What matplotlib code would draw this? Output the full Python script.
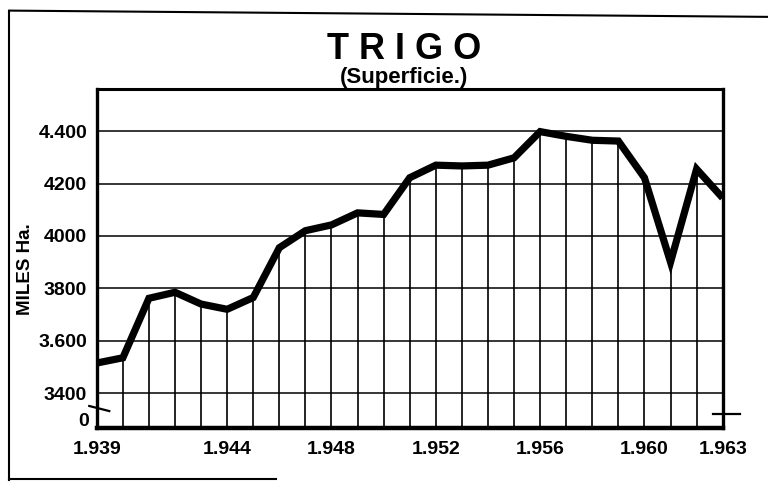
import matplotlib
matplotlib.use("Agg")
import matplotlib.pyplot as plt
from matplotlib.lines import Line2D

# superficie de trigo, miles de hectareas
years = list(range(1939, 1964))
area = [3515, 3535, 3762, 3785, 3740, 3720, 3765, 3955, 4020, 4042,
        4088, 4082, 4222, 4270, 4267, 4270, 4298, 4398, 4380, 4365,
        4362, 4222, 3900, 4255, 4145]

ytick_vals = [3400, 3600, 3800, 4000, 4200, 4400]
ytick_labels = ["3400", "3.600", "3800", "4000", "4200", "4.400"]
xtick_vals = [1939, 1944, 1948, 1952, 1956, 1960, 1963]
xtick_labels = ["1.939", "1.944", "1.948", "1.952", "1.956", "1.960", "1.963"]

plt.rcParams['font.family'] = ['Liberation Sans', 'DejaVu Sans']

fig = plt.figure(figsize=(7.68, 4.82), dpi=100)
ax = fig.add_axes([0.126, 0.112, 0.815, 0.703])

ymin, ymax = 3267, 4560
ax.set_xlim(1939, 1963)
ax.set_ylim(ymin, ymax)

# horizontal grid
for v in ytick_vals:
    ax.axhline(v, color='black', lw=1.1, zorder=1)

# vertical lines from the base up to the curve
ax.vlines(years, ymin, area, color='black', lw=1.2, zorder=2)

ax.plot(years, area, color='black', lw=5.2, solid_joinstyle='miter',
        solid_capstyle='butt', zorder=3)

for side, lw in [('left', 2.4), ('right', 2.4), ('top', 2.2), ('bottom', 3.2)]:
    ax.spines[side].set_linewidth(lw)
    ax.spines[side].set_color('black')

ax.set_yticks(ytick_vals)
ax.set_yticklabels(ytick_labels, fontsize=14, fontweight='bold')
ax.set_xticks(xtick_vals)
ax.set_xticklabels(xtick_labels, fontsize=14, fontweight='bold')
ax.tick_params(length=0, pad=7)
ax.tick_params(axis='x', pad=9)

# "0" at the foot of the broken axis
ax.text(-0.012, 0.02, "0", transform=ax.transAxes, ha='right', va='center',
        fontsize=14, fontweight='bold')

# axis break marks
ax.add_line(Line2D([-0.012, 0.02], [0.065, 0.05], transform=ax.transAxes,
                   color='black', lw=1.6, clip_on=False))
ax.add_line(Line2D([0.985, 1.027], [0.04, 0.04], transform=ax.transAxes,
                   color='black', lw=1.6, clip_on=False))

ax.set_ylabel("MILES Ha.", fontsize=13.5, fontweight='bold')
ax.yaxis.set_label_coords(-0.1, 0.47)

fig.text(0.526, 0.897, "T R I G O", ha='center', va='center', fontsize=26,
         fontweight='bold')
fig.text(0.526, 0.84, "(Superficie.)", ha='center', va='center',
         fontsize=16, fontweight='bold')

# outer frame of the plate
fig.add_artist(Line2D([0.012, 0.012], [0.005, 0.978], color='black', lw=1.5))
fig.add_artist(Line2D([0.012, 1.0], [0.978, 0.965], color='black', lw=1.5))
fig.add_artist(Line2D([0.012, 0.36], [0.006, 0.006], color='black', lw=1.5))

fig.savefig("out.png", dpi=100)
